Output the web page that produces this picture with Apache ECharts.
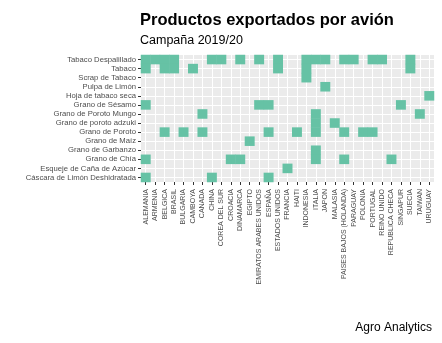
<!DOCTYPE html>
<html><head><meta charset="utf-8">
<script src="https://cdn.jsdelivr.net/npm/echarts@6/dist/echarts.min.js"></script>
<style>html,body{margin:0;padding:0;background:#fff}#c{width:442px;height:343px}</style>
</head><body><div id="c"></div>
<script>
const countries = ['ALEMANIA','ARMENIA','BELGICA','BRASIL','BULGARIA','CAMBOYA','CANADA','CHINA','COREA DEL SUR','CROACIA','DINAMARCA','EGIPTO','EMIRATOS ARABES UNIDOS','ESPAÑA','ESTADOS UNIDOS','FRANCIA','HAITI','INDONESIA','ITALIA','JAPON','MALASIA','PAISES BAJOS (HOLANDA)','PARAGUAY','POLONIA','PORTUGAL','REINO UNIDO','REPUBLICA CHECA','SINGAPUR','SUECIA','TAIWAN','URUGUAY'];
const products = ['Tabaco Despalillado','Tabaco','Scrap de Tabaco','Pulpa de Limón','Hoja de tabaco seca','Grano de Sésamo','Grano de Poroto Mungo','Grano de poroto adzuki','Grano de Poroto','Grano de Maíz','Grano de Garbanzo','Grano de Chía','Esqueje de Caña de Azúcar','Cáscara de Limón Deshidratada'];

const tabacoDespalillado = ['ALEMANIA','ARMENIA','BELGICA','BRASIL','CHINA','COREA DEL SUR','DINAMARCA','EMIRATOS ARABES UNIDOS','ESTADOS UNIDOS','INDONESIA','ITALIA','JAPON','PAISES BAJOS (HOLANDA)','PARAGUAY','PORTUGAL','REINO UNIDO','SUECIA'];
const tabaco = ['ALEMANIA','BELGICA','BRASIL','CAMBOYA','ESTADOS UNIDOS','INDONESIA','SUECIA'];
const scrapTabaco = ['INDONESIA'];
const pulpaLimon = ['JAPON'];
const hojaTabacoSeca = ['URUGUAY'];
const granoSesamo = ['ALEMANIA','EMIRATOS ARABES UNIDOS','ESPAÑA','SINGAPUR'];
const granoPorotoMungo = ['CANADA','ITALIA','TAIWAN'];
const granoPorotoAdzuki = ['ITALIA','MALASIA'];
const granoPoroto = ['BELGICA','BULGARIA','CANADA','ESPAÑA','HAITI','ITALIA','PAISES BAJOS (HOLANDA)','POLONIA','PORTUGAL'];
const granoMaiz = ['EGIPTO'];
const granoGarbanzo = ['ITALIA'];
const granoChia = ['ALEMANIA','CROACIA','DINAMARCA','ITALIA','PAISES BAJOS (HOLANDA)','REPUBLICA CHECA'];
const esquejeCana = ['FRANCIA'];
const cascaraLimon = ['ALEMANIA','CHINA','ESPAÑA'];

const destinations = [tabacoDespalillado, tabaco, scrapTabaco, pulpaLimon, hojaTabacoSeca, granoSesamo, granoPorotoMungo, granoPorotoAdzuki, granoPoroto, granoMaiz, granoGarbanzo, granoChia, esquejeCana, cascaraLimon];

const data = [];
destinations.forEach((list, pi) => list.forEach(c => data.push([c, products[pi], 1])));

const FONT = '"Liberation Sans", Arial, sans-serif';
const chart = echarts.init(document.getElementById('c'), null, {renderer: 'canvas'});
chart.setOption({
  animation: false,
  backgroundColor: '#ffffff',
  title: [
    {text: 'Productos exportados por avión', left: 135, top: 7, textStyle: {fontFamily: FONT, fontSize: 16.5, fontWeight: 'bold', color: '#000'}},
    {text: 'Campaña 2019/20', left: 135, top: 29, textStyle: {fontFamily: FONT, fontSize: 12.5, fontWeight: 'normal', color: '#000'}},
    {text: 'Agro Analytics', right: 5, bottom: 4, textStyle: {fontFamily: FONT, fontSize: 12, fontWeight: 'normal', color: '#000'}}
  ],
  grid: {left: 141, right: 8, top: 55, bottom: 161, show: true, backgroundColor: '#EBEBEB', borderWidth: 0},
  xAxis: {
    type: 'category', data: countries,
    axisLine: {show: false},
    axisTick: {show: true, alignWithLabel: true, length: 3, lineStyle: {color: '#333'}},
    splitLine: {show: true, alignWithLabel: true, lineStyle: {color: '#fff', width: 1}},
    axisLabel: {rotate: 90, interval: 0, margin: 7, fontFamily: FONT, fontSize: 7, color: '#4D4D4D'}
  },
  yAxis: {
    type: 'category', data: products, inverse: true,
    axisLine: {show: false},
    axisTick: {show: true, alignWithLabel: true, length: 3, lineStyle: {color: '#333'}},
    splitLine: {show: true, alignWithLabel: true, lineStyle: {color: '#fff', width: 1}},
    axisLabel: {interval: 0, margin: 5, fontFamily: FONT, fontSize: 7.7, color: '#4D4D4D'}
  },
  series: [{
    type: 'heatmap', data: data,
    itemStyle: {color: '#66C2A5'},
    emphasis: {disabled: true}
  }]
});
</script></body></html>
